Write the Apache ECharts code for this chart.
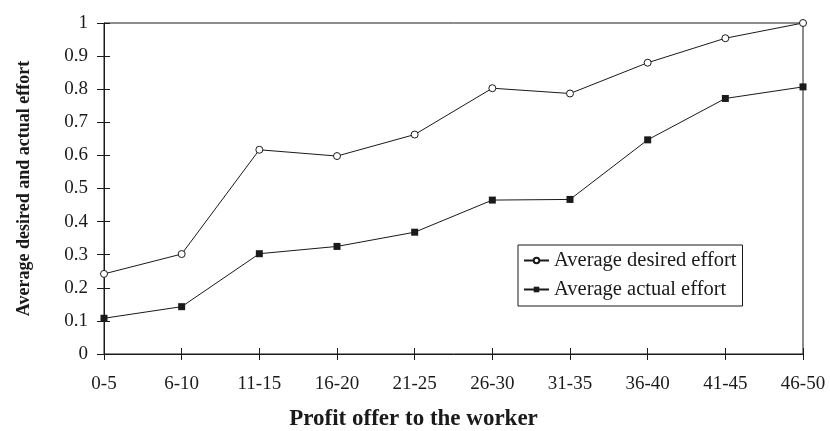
<!DOCTYPE html>
<html>
<head>
<meta charset="utf-8">
<script src="https://cdn.jsdelivr.net/npm/echarts@6/dist/echarts.min.js"></script>
<style>
  html, body { margin: 0; padding: 0; background: #fff; }
  #chart { width: 830px; height: 431px; }
</style>
</head>
<body>
<div id="chart"></div>
<script>
const categories = ['0-5', '6-10', '11-15', '16-20', '21-25', '26-30', '31-35', '36-40', '41-45', '46-50'];
const desiredEffort = [0.242, 0.302, 0.617, 0.598, 0.663, 0.803, 0.787, 0.880, 0.954, 1.0];
const actualEffort = [0.108, 0.143, 0.303, 0.325, 0.368, 0.465, 0.467, 0.647, 0.772, 0.807];
const yTicks = [0, 0.1, 0.2, 0.3, 0.4, 0.5, 0.6, 0.7, 0.8, 0.9, 1];

const serif = '"Liberation Serif", "DejaVu Serif", serif';
const ink = '#1a1a1a';

const chart = echarts.init(document.getElementById('chart'));

const option = {
  backgroundColor: '#fff',
  animation: false,
  grid: {
    left: 104, right: 27, top: 23, bottom: 77,
    outerBoundsMode: 'none',
    containLabel: false,
    show: true, borderColor: ink, borderWidth: 1
  },
  legend: {
    left: 518, top: 245,
    orient: 'vertical',
    itemWidth: 25, itemHeight: 7, itemGap: 8,
    padding: [5, 6, 6, 5],
    borderColor: ink, borderWidth: 1,
    backgroundColor: '#fff',
    textStyle: { fontFamily: serif, fontSize: 20.5, color: ink },
    data: ['Average desired effort', 'Average actual effort']
  },
  xAxis: [{
    type: 'category',
    data: categories,
    boundaryGap: false,
    name: 'Profit offer to the worker',
    nameLocation: 'middle',
    nameGap: 54,
    nameTextStyle: { fontFamily: serif, fontSize: 23, fontWeight: 'bold', color: ink, padding: [0, 80, 0, 0] },
    axisLine: { lineStyle: { color: ink, width: 1 } },
    axisTick: { show: true, length: 6, alignWithLabel: true, lineStyle: { color: ink } },
    axisLabel: { fontFamily: serif, fontSize: 19, color: ink, margin: 21 },
    splitLine: { show: false }
  }, {
    type: 'category',
    data: categories,
    boundaryGap: false,
    position: 'bottom',
    axisLine: { show: false },
    axisTick: { show: true, inside: true, length: 6, lineStyle: { color: ink } },
    axisLabel: { show: false },
    splitLine: { show: false }
  }],
  yAxis: [{
    type: 'value',
    min: 0, max: 1, interval: 0.1,
    name: 'Average desired and actual effort',
    nameLocation: 'middle',
    nameGap: 71,
    nameTextStyle: { fontFamily: serif, fontSize: 18, fontWeight: 'bold', color: ink },
    axisLine: { show: true, lineStyle: { color: ink, width: 1 } },
    axisTick: { show: true, length: 7, lineStyle: { color: ink } },
    axisLabel: {
      fontFamily: serif, fontSize: 19, color: ink, margin: 16,
      formatter: v => yTicks.includes(Math.round(v * 10) / 10) ? String(Math.round(v * 10) / 10) : ''
    },
    splitLine: { show: false }
  }, {
    type: 'value',
    min: 0, max: 1, interval: 0.1,
    position: 'left',
    axisLine: { show: false },
    axisTick: { show: true, inside: true, length: 6, lineStyle: { color: ink } },
    axisLabel: { show: false },
    splitLine: { show: false }
  }],
  series: [{
    name: 'Average desired effort',
    type: 'line',
    data: desiredEffort,
    symbol: 'circle',
    symbolSize: 7,
    lineStyle: { color: ink, width: 1 },
    itemStyle: { color: '#fff', borderColor: ink, borderWidth: 1 },
    z: 3
  }, {
    name: 'Average actual effort',
    type: 'line',
    data: actualEffort,
    symbol: 'rect',
    symbolSize: 7,
    lineStyle: { color: ink, width: 1 },
    itemStyle: { color: ink, borderColor: ink, borderWidth: 0 },
    z: 3
  }]
};

chart.setOption(option);
</script>
</body>
</html>
